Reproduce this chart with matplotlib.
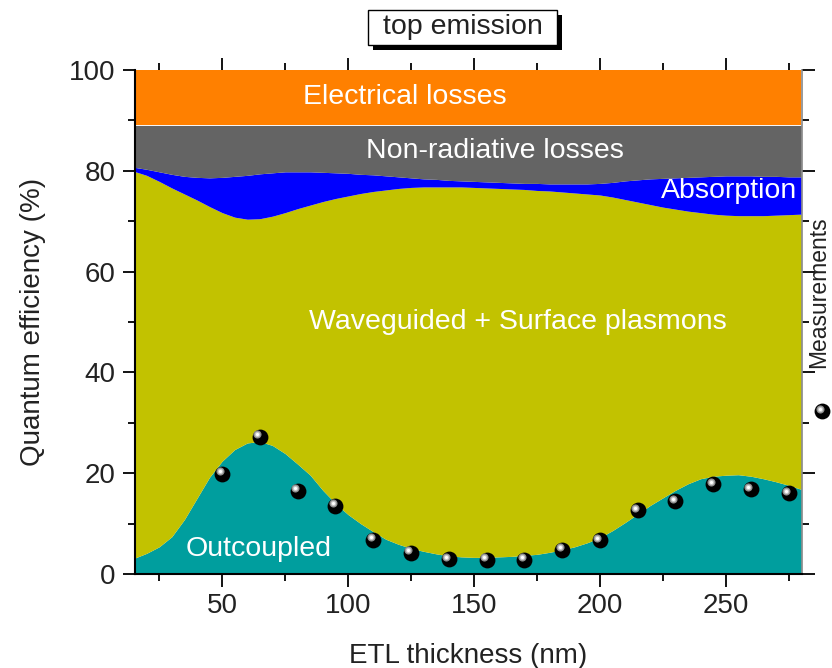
import matplotlib
matplotlib.use("Agg")
from matplotlib import pyplot as plt
from matplotlib import transforms
from matplotlib.patches import Rectangle
import numpy as np

plt.rcParams['font.family'] = ['Liberation Sans', 'DejaVu Sans']

# ETL thickness grid for the simulated efficiency channels (nm)
thickness = list(range(15, 281, 5))

# upper edge of the outcoupled channel (%)
outcoupled = [3.1, 4.1, 5.4, 7.4, 10.8, 15.0, 19.2, 22.4, 24.7, 26.0, 26.3, 25.5,
              23.9, 21.8, 19.6, 16.6, 14.0, 11.8, 10.0, 8.4, 6.9, 5.9, 5.1, 4.5,
              4.0, 3.6, 3.4, 3.3, 3.3, 3.4, 3.5, 3.7, 3.9, 4.3, 4.8, 5.4,
              6.2, 7.2, 8.6, 10.2, 11.9, 13.6, 15.1, 16.6, 17.9, 18.9, 19.4, 19.6,
              19.7, 19.4, 18.9, 18.3, 17.6, 16.8]

# upper edge of waveguided + surface plasmon channel (%)
waveguided = [79.9, 79.1, 77.9, 76.6, 75.4, 74.2, 72.9, 71.7, 70.8, 70.4, 70.5, 71.0,
              71.7, 72.5, 73.2, 73.9, 74.5, 75.0, 75.5, 75.9, 76.2, 76.5, 76.7, 76.8,
              76.8, 76.8, 76.8, 76.7, 76.6, 76.5, 76.4, 76.3, 76.1, 76.0, 75.8, 75.6,
              75.4, 75.2, 74.8, 74.3, 73.8, 73.3, 72.8, 72.4, 72.0, 71.7, 71.4, 71.2,
              71.1, 71.1, 71.1, 71.2, 71.3, 71.4]

# upper edge of absorption channel (%)
absorption = [80.7, 80.3, 79.8, 79.3, 78.9, 78.7, 78.6, 78.7, 78.9, 79.1, 79.4, 79.6,
              79.8, 79.8, 79.8, 79.7, 79.6, 79.5, 79.3, 79.2, 79.0, 78.8, 78.6, 78.4,
              78.3, 78.1, 78.0, 77.9, 77.8, 77.7, 77.6, 77.5, 77.5, 77.4, 77.4, 77.4,
              77.4, 77.5, 77.7, 78.0, 78.2, 78.4, 78.5, 78.6, 78.7, 78.8, 78.9, 79.0,
              79.0, 79.0, 78.9, 78.9, 78.8, 78.8]

nonradiative_top = 89.0
electrical_top = 100.0

# measured outcoupling efficiency
meas_x = [50, 65, 80, 95, 110, 125, 140, 155, 170, 185, 200, 215, 230, 245, 260, 275]
meas_y = [19.9, 27.2, 16.5, 13.5, 6.8, 4.2, 2.9, 2.8, 2.8, 4.8, 6.7, 12.6, 14.4, 17.8, 16.8, 16.0]

x = np.array(thickness)
out = np.array(outcoupled)
wg = np.array(waveguided)
ab = np.array(absorption)

fig = plt.figure(figsize=(8.32, 6.68), dpi=100)
ax = fig.add_axes([135/832, 1-574/668, 667/832, 504/668])

ax.fill_between(x, 0, out, color='#009E9E', lw=0)
ax.fill_between(x, out, wg, color='#C2C200', lw=0)
ax.fill_between(x, wg, ab, color='#0000FF', lw=0)
ax.fill_between(x, ab, nonradiative_top, color='#646464', lw=0)
ax.fill_between(x, nonradiative_top, electrical_top, color='#FF8000', lw=0)


def balls(axis, xs, ys):
    # black sphere with a soft grey/white highlight up-left
    axis.scatter(xs, ys, s=130, color='black', zorder=5, lw=0)
    hl = transforms.offset_copy(axis.transData, fig=fig, x=-2.5, y=2.5, units='dots')
    axis.scatter(xs, ys, s=34, color='#8C8C8C', zorder=6, lw=0, transform=hl)
    axis.scatter(xs, ys, s=16, color='#C8C8C8', zorder=7, lw=0, transform=hl)
    axis.scatter(xs, ys, s=5, color='white', zorder=8, lw=0, transform=hl)


balls(ax, meas_x, meas_y)

txt = dict(color='white', fontsize=20.5, ha='center', va='center', zorder=9)
ax.text(122.5, 94.6, 'Electrical losses', **txt)
ax.text(158.3, 83.9, 'Non-radiative losses', **txt)
ax.text(278.5, 76.0, 'Absorption', color='white', fontsize=20.5, ha='right', va='center', zorder=9)
ax.text(167.4, 50.0, 'Waveguided + Surface plasmons', **txt)
ax.text(64.6, 5.0, 'Outcoupled', **txt)

ax.set_xlim(15.4, 280.3)
ax.set_ylim(0, 100)
ax.set_xticks([50, 100, 150, 200, 250])
ax.set_xticks([25, 75, 125, 175, 225, 275], minor=True)
ax.set_yticks([0, 20, 40, 60, 80, 100])
ax.set_yticks([10, 30, 50, 70, 90], minor=True)

ax.tick_params(which='both', direction='out', top=True, right=True, width=1.3, color='black',
               labelsize=20, labelcolor='#222222')
ax.tick_params(which='major', length=9, pad=5)
ax.tick_params(which='minor', length=5)

ax.spines['top'].set_visible(False)
ax.spines['left'].set_linewidth(1.5)
ax.spines['bottom'].set_linewidth(1.5)
ax.spines['right'].set_color('#888888')
ax.spines['right'].set_linewidth(1.2)

ax.set_xlabel('ETL thickness (nm)', fontsize=20, color='#222222')
ax.set_ylabel('Quantum efficiency (%)', fontsize=20, color='#222222')
ax.xaxis.set_label_coords(0.5, -0.137)
ax.yaxis.set_label_coords(-0.133, 0.5)

# title box with drop shadow
fig.patches.append(Rectangle((373/832, 1-50/668), 189/832, 35/668, transform=fig.transFigure,
                             facecolor='black', edgecolor='none', zorder=1))
fig.patches.append(Rectangle((368/832, 1-45/668), 189/832, 35/668, transform=fig.transFigure,
                             facecolor='white', edgecolor='black', lw=1, zorder=2))
fig.text(463/832, 1-27/668, 'top emission', fontsize=20.5, ha='center', va='center',
         color='#222222', zorder=3)

# legend on the right side
fig.text(819/832, 1-292/668, 'Measurements', fontsize=16.5, rotation=90, ha='center',
         va='center', color='#222222')
leg_ax = fig.add_axes([0, 0, 1, 1], facecolor='none')
leg_ax.set_axis_off()
leg_ax.set_xlim(0, 832)
leg_ax.set_ylim(668, 0)
balls(leg_ax, [822], [411])

fig.savefig('out.png', dpi=100)
